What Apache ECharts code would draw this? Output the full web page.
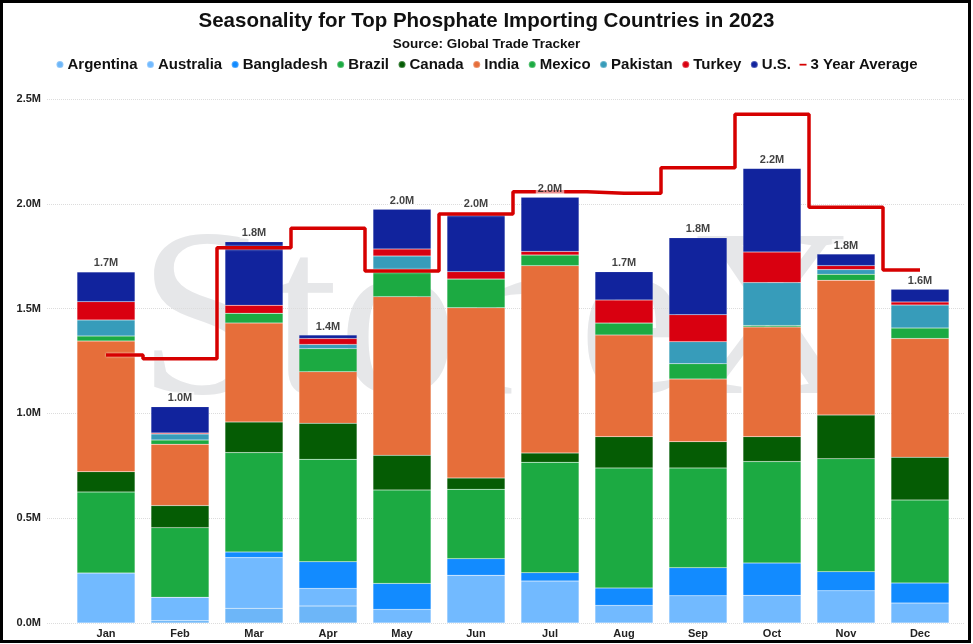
<!DOCTYPE html>
<html>
<head>
<meta charset="utf-8">
<script src="https://cdn.jsdelivr.net/npm/echarts@6/dist/echarts.min.js"></script>
<style>
  html, body { margin: 0; padding: 0; background: #fff; }
  #chart { width: 973px; height: 644px; }
</style>
</head>
<body>
<div id="chart"></div>
<script>
// months on the x axis
const months = ['Jan', 'Feb', 'Mar', 'Apr', 'May', 'Jun', 'Jul', 'Aug', 'Sep', 'Oct', 'Nov', 'Dec']

// imports per country, thousand MT
const argentina = [0, 11, 70, 81, 0, 0, 0, 0, 0, 0, 0, 0]
const australia = [239, 112, 242, 84, 65, 228, 200, 84, 130, 132, 154, 95]
const bangladesh = [0, 0, 27, 127, 124, 79, 40, 83, 134, 154, 91, 96]
const brazil = [386, 332, 474, 489, 446, 331, 527, 573, 476, 484, 539, 396]
const canada = [97, 105, 146, 172, 165, 54, 44, 149, 125, 119, 208, 204]
const india = [623, 293, 472, 246, 757, 812, 894, 485, 299, 523, 643, 566]
const mexico = [24, 20, 47, 110, 130, 137, 51, 57, 73, 7, 29, 50]
const pakistan = [77, 29, 0, 20, 64, 0, 0, 0, 105, 205, 22, 110]
const turkey = [87, 5, 38, 28, 33, 35, 17, 110, 129, 146, 19, 15]
const us = [142, 125, 303, 17, 190, 281, 258, 135, 367, 399, 55, 60]

// 3 year average, thousand MT
const threeYearAvg = [1279, 1261, 1790, 1883, 1679, 1951, 2058, 2050, 2172, 2427, 1983, 1684]

// y axis ticks (MT)
const yMax = 2500000
const yStep = 500000

const countries = [
  { name: 'Argentina', data: argentina, color: '#6db6f8' },
  { name: 'Australia', data: australia, color: '#72baff' },
  { name: 'Bangladesh', data: bangladesh, color: '#128bff' },
  { name: 'Brazil', data: brazil, color: '#1caa42' },
  { name: 'Canada', data: canada, color: '#055c04' },
  { name: 'India', data: india, color: '#e66e3a' },
  { name: 'Mexico', data: mexico, color: '#1caa42' },
  { name: 'Pakistan', data: pakistan, color: '#379cba' },
  { name: 'Turkey', data: turkey, color: '#d90010' },
  { name: 'U.S.', data: us, color: '#11239d' }
]

const toMT = (arr) => arr.map((v) => v * 1000)
const fmtM = (v) => (v / 1000000).toFixed(1) + 'M'

const totals = months.map((m, i) => {
  let s = 0
  countries.forEach((c) => { s += c.data[i] })
  return s * 1000
})

const chart = echarts.init(document.getElementById('chart'))

const barSeries = countries.map((c) => {
  return {
    name: c.name,
    type: 'bar',
    stack: 'total',
    xAxisIndex: 1,
    yAxisIndex: 1,
    barWidth: 58,
    data: toMT(c.data),
    itemStyle: {
      color: c.color,
      borderColor: 'rgba(255,255,255,0.25)',
      borderWidth: 0.5
    },
    z: 2
  }
})

const option = {
  animation: false,
  textStyle: { fontFamily: 'Liberation Sans, Arial, sans-serif' },
  title: [
    {
      text: 'Seasonality for Top Phosphate Importing Countries in 2023',
      left: 'center',
      top: 6,
      textStyle: { fontSize: 20.5, fontWeight: 'bold', color: '#111' }
    },
    {
      text: 'Source: Global Trade Tracker',
      left: 'center',
      top: 32,
      textStyle: { fontSize: 13.5, fontWeight: 'bold', color: '#111' }
    }
  ],
  legend: {
    top: 52,
    left: 'center',
    itemWidth: 7,
    itemHeight: 7,
    itemGap: 8.5,
    textStyle: { fontSize: 15, fontWeight: 'bold', color: '#111', padding: [0, 0, 0, -1] },
    data: countries.map((c) => ({ name: c.name, icon: 'circle' })).concat([
      { name: '3 Year Average', icon: 'path://M0,0L0,0M0,4L10,4L10,6.5L0,6.5ZM10,10L10,10' }
    ])
  },
  graphic: [
    {
      type: 'text',
      left: 138,
      top: 210,
      z: -10,
      silent: true,
      style: {
        text: 'StoneX',
        font: '240px "Liberation Serif", serif',
        fill: '#e6e7e9'
      }
    },
    {
      type: 'rect',
      z: 100,
      silent: true,
      shape: { x: 1.5, y: 1.5, width: 968, height: 640 },
      style: { fill: 'none', stroke: '#000', lineWidth: 3 }
    }
  ],
  grid: [
    { left: 47, right: 8, top: 99, bottom: 21, outerBoundsMode: 'none' },
    { left: 69, right: 16, top: 99, bottom: 21, outerBoundsMode: 'none' }
  ],
  xAxis: [
    {
      type: 'category',
      gridIndex: 0,
      data: months,
      show: false
    },
    {
      type: 'category',
      gridIndex: 1,
      data: months,
      axisLine: { show: false },
      axisTick: { show: false },
      axisLabel: { fontSize: 11, fontWeight: 'bold', color: '#222', margin: 5 }
    }
  ],
  yAxis: [
    {
      type: 'value',
      gridIndex: 0,
      min: 0,
      max: yMax,
      interval: yStep,
      name: 'MT',
      nameLocation: 'middle',
      nameRotate: 90,
      nameGap: 39,
      nameTextStyle: { fontSize: 11, fontWeight: 'bold', color: '#222' },
      axisLine: { show: false },
      axisTick: { show: false },
      axisLabel: {
        fontSize: 11,
        fontWeight: 'bold',
        color: '#222',
        margin: 6,
        formatter: fmtM
      },
      splitLine: { lineStyle: { color: '#dcdcdc', type: 'dotted', width: 1 } }
    },
    {
      type: 'value',
      gridIndex: 1,
      min: 0,
      max: yMax,
      interval: yStep,
      show: false,
      splitLine: { show: false }
    }
  ],
  series: barSeries.concat([
    {
      name: '3 Year Average',
      type: 'line',
      step: 'middle',
      xAxisIndex: 1,
      yAxisIndex: 1,
      data: toMT(threeYearAvg),
      symbol: 'none',
      itemStyle: { color: '#d60000' },
      lineStyle: {
        color: '#d60000',
        width: 3.5,
        shadowColor: 'rgba(255,255,255,0.9)',
        shadowBlur: 2
      },
      z: 5
    },
    {
      name: 'totals',
      type: 'scatter',
      xAxisIndex: 1,
      yAxisIndex: 1,
      data: totals,
      symbolSize: 0,
      silent: true,
      z: 10,
      label: {
        show: true,
        position: 'top',
        distance: 3,
        fontSize: 11,
        fontWeight: 'bold',
        color: '#111',
        backgroundColor: 'rgba(255,255,255,0.7)',
        padding: [1, 2, 0, 2],
        formatter: (p) => fmtM(p.value)
      }
    }
  ])
}

chart.setOption(option)
</script>
</body>
</html>
